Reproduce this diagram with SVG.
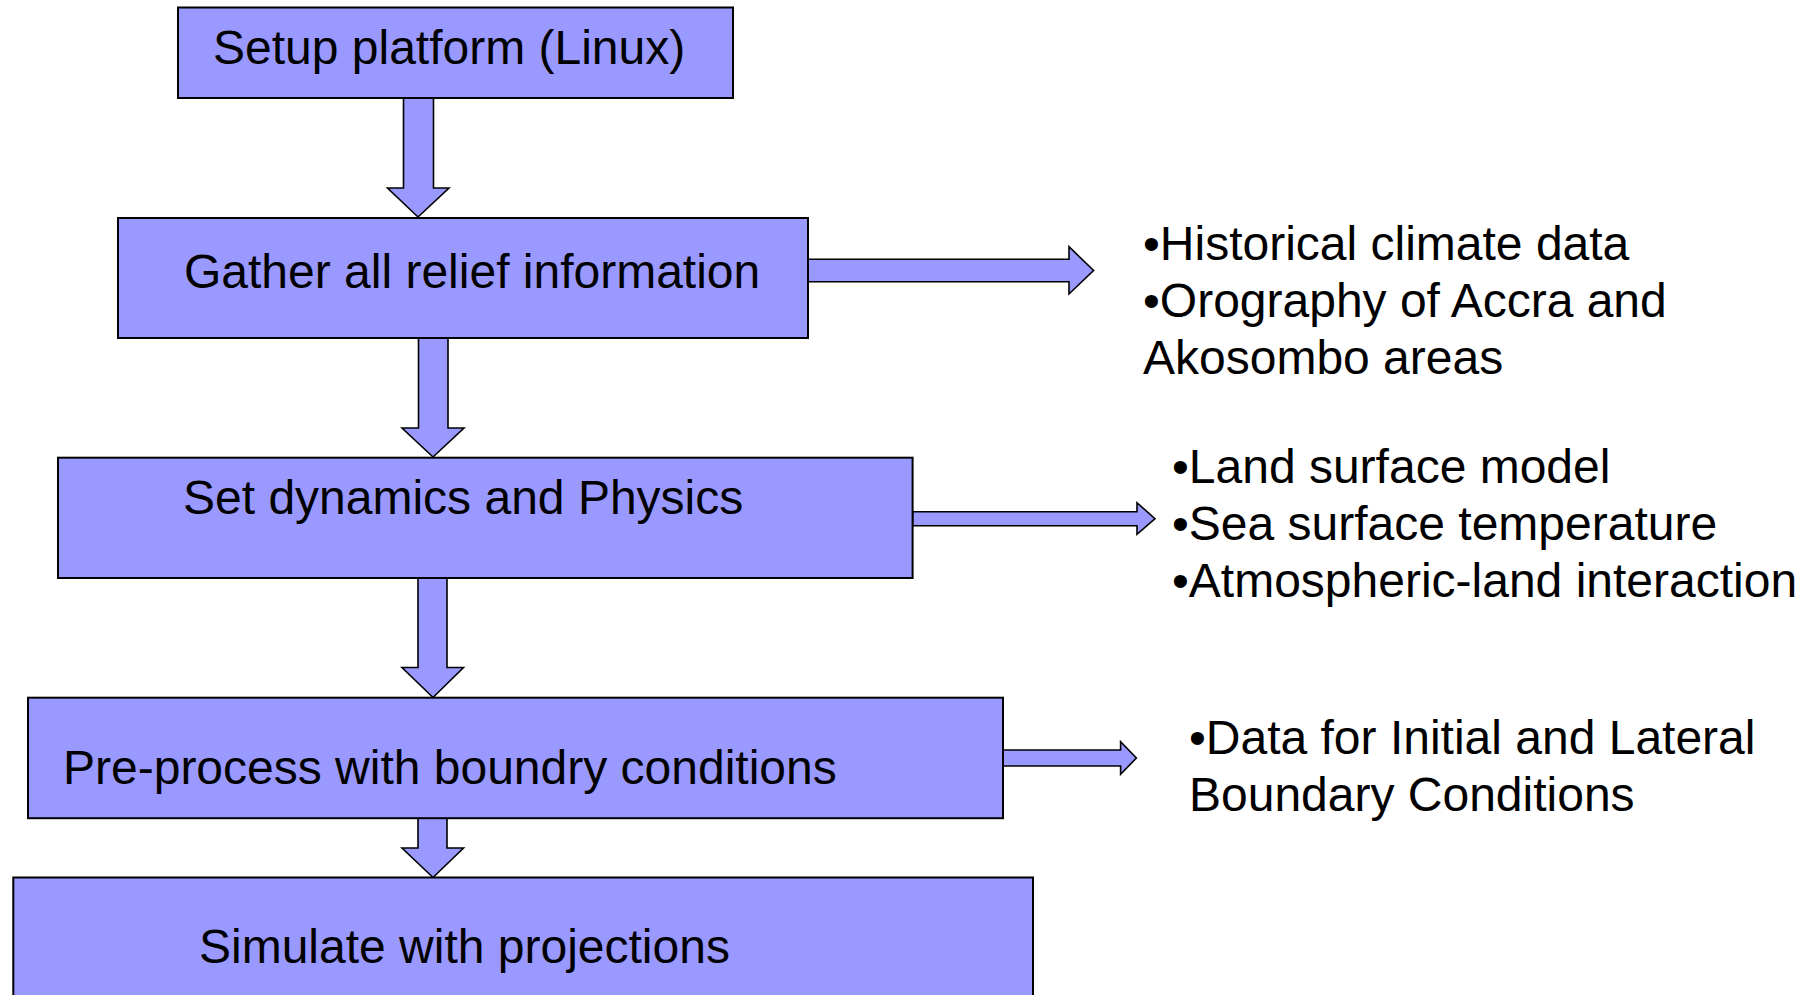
<svg xmlns="http://www.w3.org/2000/svg" width="1811" height="995" viewBox="0 0 1811 995">
<style>
.box{fill:#9999FF;stroke:#000;stroke-width:2}
.arr{fill:#9999FF;stroke:#000;stroke-width:1.6;stroke-linejoin:miter}
.t{font-family:"Liberation Sans",Arial,sans-serif;font-size:48px;fill:#000}
</style>
<rect width="1811" height="995" fill="#fff"/>
<g id="connectors">
<polygon class="arr" points="403.5,98 433.5,98 433.5,188 449,188 418,217 387.5,188 403.5,188"/>
<polygon class="arr" points="418.5,338 448,338 448,428 464,428 433,457 402,428 418.5,428"/>
<polygon class="arr" points="418,578 447,578 447,667.5 463.5,667.5 433,697.5 402,667.5 418,667.5"/>
<polygon class="arr" points="418,818 447,818 447,848 463.5,848 433,877.5 402,848 418,848"/>
<polygon class="arr" points="808,259.3 1069,259.3 1069,246.7 1093.6,270.5 1069,294 1069,281.7 808,281.7"/>
<polygon class="arr" points="912.6,511.7 1137,511.7 1137,502.7 1155,518.7 1137,534.3 1137,525.7 912.6,525.7"/>
<polygon class="arr" points="1003,750 1120.6,750 1120.6,741.7 1136.4,758 1120.6,774.3 1120.6,766 1003,766"/>
</g>
<g id="setup">
<rect class="box" x="178" y="7.5" width="555" height="90.5"/>
<text class="t" x="213" y="64">Setup platform (Linux)</text>
</g>
<g id="gather">
<rect class="box" x="118" y="218" width="690" height="120"/>
<text class="t" x="184" y="288">Gather all relief information</text>
</g>
<g id="dynamics">
<rect class="box" x="58" y="457.7" width="854.6" height="120.3"/>
<text class="t" x="183" y="513.5">Set dynamics and Physics</text>
</g>
<g id="preprocess">
<rect class="box" x="28" y="697.7" width="975" height="120.5"/>
<text class="t" x="63" y="783.5">Pre-process with boundry conditions</text>
</g>
<g id="simulate">
<rect class="box" x="13.3" y="877.5" width="1019.7" height="130"/>
<text class="t" x="199" y="963">Simulate with projections</text>
</g>
<g id="note-relief">
<text class="t" x="1143" y="260">•Historical climate data</text>
<text class="t" x="1143" y="317">•Orography of Accra and</text>
<text class="t" x="1143" y="374">Akosombo areas</text>
</g>
<g id="note-physics">
<text class="t" x="1172" y="483">•Land surface model</text>
<text class="t" x="1172" y="540">•Sea surface temperature</text>
<text class="t" x="1172" y="597">•Atmospheric-land interaction</text>
</g>
<g id="note-boundary">
<text class="t" x="1189" y="754">•Data for Initial and Lateral</text>
<text class="t" x="1189" y="811">Boundary Conditions</text>
</g>
</svg>
